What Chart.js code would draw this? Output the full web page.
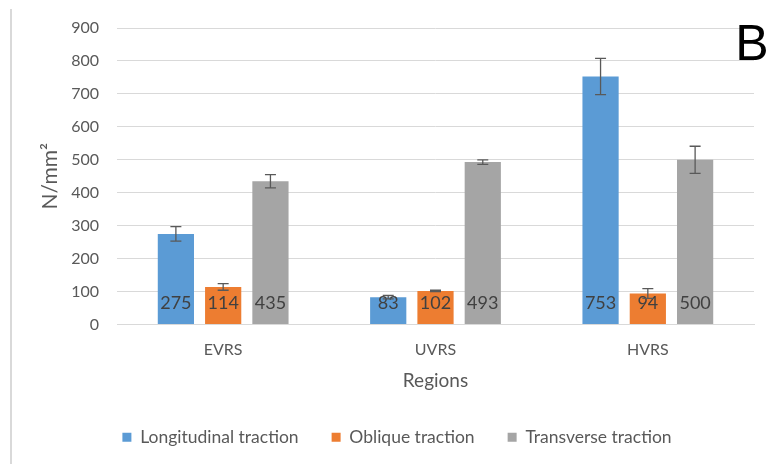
<!DOCTYPE html>
<html>
<head>
<meta charset="utf-8">
<script src="https://cdn.jsdelivr.net/npm/chart.js@4"></script>
<style>
html,body{margin:0;padding:0;background:#fff;}
#wrap{width:775px;height:464px;position:relative;}
</style>
</head>
<body>
<div id="wrap"><canvas id="c" width="775" height="464"></canvas></div>
<script>
const categories = ["EVRS", "UVRS", "HVRS"];
const seriesNames = ["Longitudinal traction", "Oblique traction", "Transverse traction"];
const longitudinal = [275, 83, 753];
const oblique = [114, 102, 94];
const transverse = [435, 493, 500];
const longitudinalErr = [22, 5, 55];
const obliqueErr = [10, 2, 15];
const transverseErr = [20, 7, 41];
const yTicks = [0, 100, 200, 300, 400, 500, 600, 700, 800, 900];
const colors = ["#5B9BD5", "#ED7D31", "#A5A5A5"];
const FONT = "Lato, 'Open Sans', sans-serif";

const errors = [longitudinalErr, obliqueErr, transverseErr];

const extras = {
  id: 'extras',
  beforeDraw(chart) {
    const ctx = chart.ctx;
    ctx.save();
    ctx.fillStyle = '#fff';
    ctx.fillRect(0, 0, chart.width, chart.height);
    ctx.strokeStyle = '#d9d9d9';
    ctx.lineWidth = 2;
    ctx.beginPath();
    ctx.moveTo(11, 9);
    ctx.lineTo(11, chart.height);
    ctx.stroke();
    ctx.restore();
  },
  afterDatasetsDraw(chart) {
    const ctx = chart.ctx;
    const y = chart.scales.y;
    ctx.save();
    chart.data.datasets.forEach((ds, di) => {
      const meta = chart.getDatasetMeta(di);
      meta.data.forEach((bar, i) => {
        const v = ds.data[i];
        const e = errors[di][i];
        const yt = y.getPixelForValue(v + e);
        const yb = y.getPixelForValue(v - e);
        ctx.fillStyle = '#404040';
        ctx.font = '18px ' + FONT;
        ctx.textAlign = 'center';
        ctx.textBaseline = 'middle';
        ctx.fillText(String(v), bar.x, y.getPixelForValue(0) - 21);
        ctx.strokeStyle = '#595959';
        ctx.lineWidth = 1.3;
        ctx.beginPath();
        ctx.moveTo(bar.x, yt); ctx.lineTo(bar.x, yb);
        ctx.moveTo(bar.x - 5.5, yt); ctx.lineTo(bar.x + 5.5, yt);
        ctx.moveTo(bar.x - 5.5, yb); ctx.lineTo(bar.x + 5.5, yb);
        ctx.stroke();
      });
    });
    ctx.fillStyle = '#000';
    ctx.font = '50px "Liberation Sans", Arial, sans-serif';
    ctx.textAlign = 'center';
    ctx.textBaseline = 'alphabetic';
    ctx.fillText('B', 752, 60);
    ctx.restore();
  }
};

new Chart(document.getElementById('c'), {
  type: 'bar',
  data: {
    labels: categories,
    datasets: [
      { label: seriesNames[0], data: longitudinal, backgroundColor: colors[0] },
      { label: seriesNames[1], data: oblique, backgroundColor: colors[1] },
      { label: seriesNames[2], data: transverse, backgroundColor: colors[2] }
    ]
  },
  options: {
    responsive: false,
    animation: false,
    devicePixelRatio: 1,
    categoryPercentage: 0.668,
    barPercentage: 0.766,
    layout: { padding: { left: 40, right: 21, top: 28, bottom: 8 } },
    plugins: {
      legend: {
        position: 'bottom',
        labels: {
          boxWidth: 9, boxHeight: 9, padding: 33,
          color: '#595959',
          font: { family: FONT, size: 17.5 }
        }
      },
      tooltip: { enabled: false }
    },
    scales: {
      x: {
        grid: { display: false, drawTicks: false },
        border: { display: true, color: '#d9d9d9' },
        ticks: { color: '#595959', padding: 16, font: { family: FONT, size: 16 } },
        title: { display: true, text: 'Regions', color: '#595959', font: { family: FONT, size: 19 }, padding: { top: 4, bottom: 3.6 } },
        afterFit(s) { s.height = 71; }
      },
      y: {
        min: 0, max: 900,
        afterBuildTicks(s) { s.ticks = yTicks.map(v => ({ value: v })); },
        grid: { color: '#d9d9d9', drawTicks: false },
        border: { display: false },
        ticks: { color: '#595959', padding: 18, font: { family: FONT, size: 16 } },
        title: { display: true, text: 'N/mm²', color: '#595959', font: { family: FONT, size: 21 }, padding: { top: -2, bottom: 0 } },
        afterFit(s) { s.width = 77; }
      }
    }
  },
  plugins: [extras]
});
</script>
</body>
</html>
